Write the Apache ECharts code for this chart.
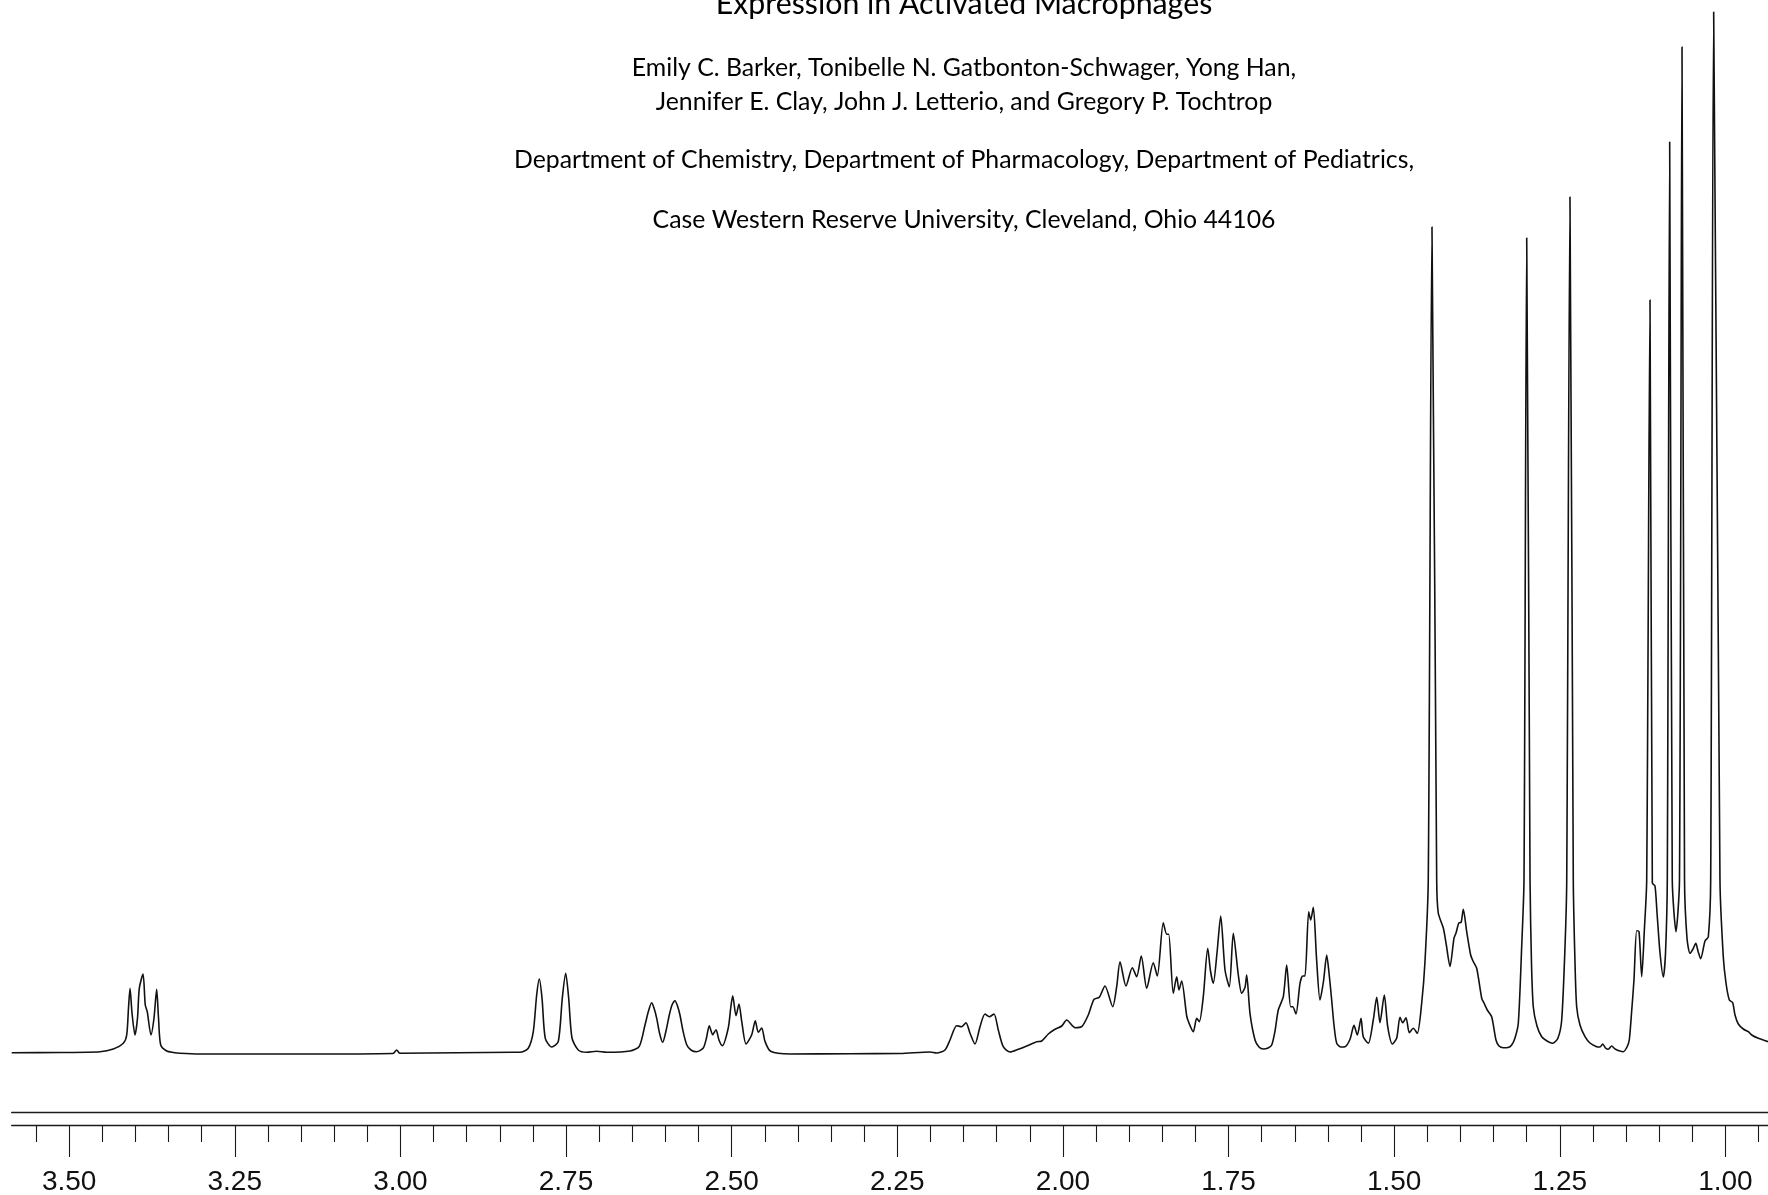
<!DOCTYPE html>
<html>
<head>
<meta charset="utf-8">
<script src="https://cdn.jsdelivr.net/npm/echarts@6/dist/echarts.min.js"></script>
<style>
html,body{margin:0;padding:0;background:#fff;}
#c{width:1768px;height:1195px;}
</style>
</head>
<body>
<div id="c"></div>
<script>
// Header text lines (top line is cut off by the picture edge)
const titleLine = 'Expression in Activated Macrophages';
const authorLines = [
  'Emily C. Barker, Tonibelle N. Gatbonton-Schwager, Yong Han,',
  'Jennifer E. Clay, John J. Letterio, and Gregory P. Tochtrop',
  'Department of Chemistry, Department of Pharmacology, Department of Pediatrics,',
  'Case Western Reserve University, Cleveland, Ohio 44106'
];

// Chemical shift (ppm) of traced spectrum points
const ppm = [
3.5867,3.5138,3.4534,3.4334,3.4183,3.4131,3.4104,3.4081,3.4051,3.4006,3.3968,3.3941,3.3885,3.3851,3.3821,3.3765,3.3719,3.3679,3.3651,3.3618,3.3528,3.3428,3.3326,3.3025,3.1516,3.0112,3.0056,3.0006,
2.8296,2.8195,2.8070,2.7994,2.7943,2.7903,2.7862,2.7813,2.7716,2.7617,2.7556,2.7505,2.7460,2.7410,2.7315,2.7188,2.7037,2.6886,2.6534,2.6394,2.6308,2.6255,2.6207,2.6172,2.6131,2.6089,2.6041,2.5991,2.5941,2.5900,2.5855,2.5817,2.5780,2.5734,2.5678,2.5614,2.5528,2.5428,2.5380,2.5338,2.5286,2.5236,2.5191,2.5141,2.5051,2.5014,2.4984,2.4934,2.4889,2.4848,2.4783,2.4697,2.4643,2.4598,2.4546,2.4497,2.4411,2.4119,2.3214,2.2459,2.2006,2.1905,
2.1780,2.1704,2.1603,2.1528,2.1463,2.1402,2.1327,2.1251,2.1176,2.1111,2.1040,2.0975,2.0900,2.0798,2.0673,2.0546,2.0395,2.0320,2.0220,2.0119,2.0018,1.9943,1.9817,1.9716,1.9617,1.9531,1.9451,1.9365,1.9248,1.9188,1.9138,1.9048,1.8952,1.8886,1.8817,1.8735,1.8636,1.8575,1.8485,1.8433,1.8403,1.8334,1.8282,1.8248,1.8207,1.8131,1.8097,1.8032,1.7980,1.7941,1.7881,1.7814,1.7772,1.7730,1.7674,1.7618,1.7553,1.7488,1.7428,1.7352,1.7301,1.7251,1.7226,1.7176,1.7100,1.7040,1.6975,1.6904,1.6848,1.6798,1.6749,1.6673,1.6622,1.6562,1.6531,1.6482,1.6421,1.6380,1.6346,1.6290,1.6260,1.6220,1.6172,1.6119,1.6066,1.6018,1.5983,1.5943,1.5908,1.5867,1.5802,1.5742,1.5666,1.5606,1.5556,1.5500,1.5466,1.5390,1.5315,1.5263,1.5214,1.5149,1.5097,1.5028,1.4962,1.4912,1.4871,1.4821,1.4771,1.4711,1.4651,1.4584,1.4534,
1.4485,1.4429,1.4358,1.4334,1.4258,1.4217,1.4157,1.4097,1.4066,1.4021,1.3991,1.3956,1.3905,1.3845,1.3810,1.3754,1.3678,1.3644,1.3594,1.3528,1.3463,1.3417,1.3352,1.3282,1.3226,1.3176,1.3126,1.3075,1.3040,1.2999,1.2949,1.2927,1.2900,1.2844,1.2773,1.2693,1.2607,1.2527,1.2471,1.2421,1.2395,1.2346,1.2296,1.2270,1.2245,1.2195,1.2119,1.2044,1.1943,1.1893,1.1852,1.1810,1.1768,1.1716,1.1666,1.1541,1.1485,1.1451,1.1417,1.1380,1.1339,1.1304,1.1263,1.1224,1.1188,1.1138,1.1103,1.1063,1.1032,1.0987,1.0937,1.0904,1.0877,1.0841,1.0802,1.0746,1.0693,1.0655,1.0617,1.0580,1.0534,1.0489,1.0447,1.0414,1.0373,1.0308,1.0258,1.0222,1.0177,1.0082,1.0032,0.9991,0.9941,0.9890,0.9855,0.9805,0.9730,0.9654,0.9603,0.9503,0.9357
];

// Signal intensity (arbitrary units) at each ppm point
const intensity = [
0.3,0.5,1.3,4,9.7,18,45,64.7,40,18,35,64.7,79,48,41.3,18,35,63.7,35,8,2,0.5,-0.3,-1,-1,-0.5,3,-0.3,
0.7,0.7,4.7,21.3,58,74,54.7,14.7,6,11.3,55,79.7,55,15,3,0.7,1.7,0.7,2,6.7,28,42,50.3,45,34.7,20,10.7,22,38,48,52.3,47,38,22,8.3,3,1.3,5,15,27.3,18.3,23.3,13,7.3,25,45,57.3,37.3,49,31.7,9,18.3,32.3,20.7,25,11.7,1.7,-1,-0.7,-0.5,1,0,
3,13,27.3,26.3,30.3,19.7,9,26.3,39,36.3,39,23,6.3,1,3.7,7,11.3,12,19,23.7,27,33,25.3,26.3,38,53.7,55.7,67,46.3,66.3,91.3,67,85.3,76.3,97,64.7,90.3,77,130.3,118.7,118.7,59.7,76.3,63,72,37,30,21.3,34.7,31.3,56.3,104.7,82,69.7,100,137,83,66.3,119.7,78,59.7,65.7,78,39.7,13,6,4,5,8,22,43,56.3,88,46.3,46.3,39,69.7,77,77,141.3,133,145.7,95,53,72,98,80,53,28,9.7,6,6.3,13.7,27.7,18,34.7,16.3,9.7,33,55.7,30.3,58,26.3,9,14.7,35.7,30.3,35.3,20.3,24.7,19.7,50,92,
173,826,173,140,125,110,86.5,114.7,120,130.3,130.5,143.7,121.3,98,92,84.7,54.7,50,43,36.3,13,7,5.3,5.5,8,15,29.7,106.3,173,815,173,90,46.3,27,16.3,12,9.7,15,33,106.3,173,856,173,90,46.3,28,16.3,10,6.3,6,9,5,3.7,7,4,1.3,6,13,40,73,122.3,121.5,76.3,122,173,753,170,167,140,100,76,100,173,911,173,121.3,173,1006,173,115,99.7,104,109.7,102,94.3,112,116.3,173,1041,173,96.3,70,53,50.3,38,29,24,21.3,18,14.7,11.3
];

// Axis ticks (ppm)
const majorTicks = [3.50, 3.25, 3.00, 2.75, 2.50, 2.25, 2.00, 1.75, 1.50, 1.25, 1.00];
const minorTicks = [3.55, 3.45, 3.40, 3.35, 3.30, 3.20, 3.15, 3.10, 3.05, 2.95, 2.90, 2.85, 2.80, 2.70, 2.65, 2.60, 2.55, 2.45, 2.40, 2.35, 2.30, 2.20, 2.15, 2.10, 2.05, 1.95, 1.90, 1.85, 1.80, 1.70, 1.65, 1.60, 1.55, 1.45, 1.40, 1.35, 1.30, 1.20, 1.15, 1.10, 1.05, 0.95];

const xMin = 0.9357, xMax = 3.5867;

const data = ppm.map((p, i) => [p, intensity[i]]);

const chart = echarts.init(document.getElementById('c'), null, {renderer: 'canvas'});

const textFont = 'Lato';
const headerY = [68, 101.6, 160, 219.6];
const graphics = [{
  type: 'text', x: 964, y: 4.6,
  style: {text: titleLine, font: '30.3px ' + textFont, fill: '#000',
          textAlign: 'center', align: 'center', textVerticalAlign: 'middle', verticalAlign: 'middle'}
}];
authorLines.forEach((t, i) => graphics.push({
  type: 'text', x: 964, y: headerY[i],
  style: {text: t, font: '24.8px ' + textFont, fill: '#000',
          textAlign: 'center', align: 'center', textVerticalAlign: 'middle', verticalAlign: 'middle'}
}));

const baseX = {
  type: 'value', min: xMin, max: xMax, inverse: true, position: 'bottom',
  splitLine: {show: false}
};

chart.setOption({
  animation: false,
  backgroundColor: '#ffffff',
  graphic: graphics,
  grid: {left: 11.7, right: 0, top: 0, bottom: 82.7, containLabel: false, outerBoundsMode: 'none'},
  xAxis: [
    Object.assign({}, baseX, {
      offset: 0,
      axisLine: {show: true, onZero: false, lineStyle: {color: '#1a1a1a', width: 1.3}},
      axisTick: {show: false},
      axisLabel: {show: false}
    }),
    Object.assign({}, baseX, {
      offset: 12.7,
      axisLine: {show: true, onZero: false, lineStyle: {color: '#1a1a1a', width: 1.3}},
      axisTick: {show: true, customValues: majorTicks, length: 32, lineStyle: {color: '#1a1a1a', width: 1.1}},
      axisLabel: {show: true, customValues: majorTicks, margin: 43.5,
                  formatter: v => Number(v).toFixed(2),
                  fontFamily: 'Liberation Sans', fontSize: 28, color: '#111'}
    }),
    Object.assign({}, baseX, {
      offset: 12.7,
      axisLine: {show: false, onZero: false},
      axisTick: {show: true, customValues: minorTicks, length: 17, lineStyle: {color: '#1a1a1a', width: 1.1}},
      axisLabel: {show: false}
    })
  ],
  yAxis: {type: 'value', min: -59.3, max: 1053, show: false},
  series: [{
    type: 'line',
    xAxisIndex: 0,
    data: data,
    showSymbol: false,
    symbol: 'none',
    sampling: null,
    smooth: 0.25,
    lineStyle: {color: '#111', width: 1.6, join: 'round'},
    silent: true
  }]
});
</script>
</body>
</html>
